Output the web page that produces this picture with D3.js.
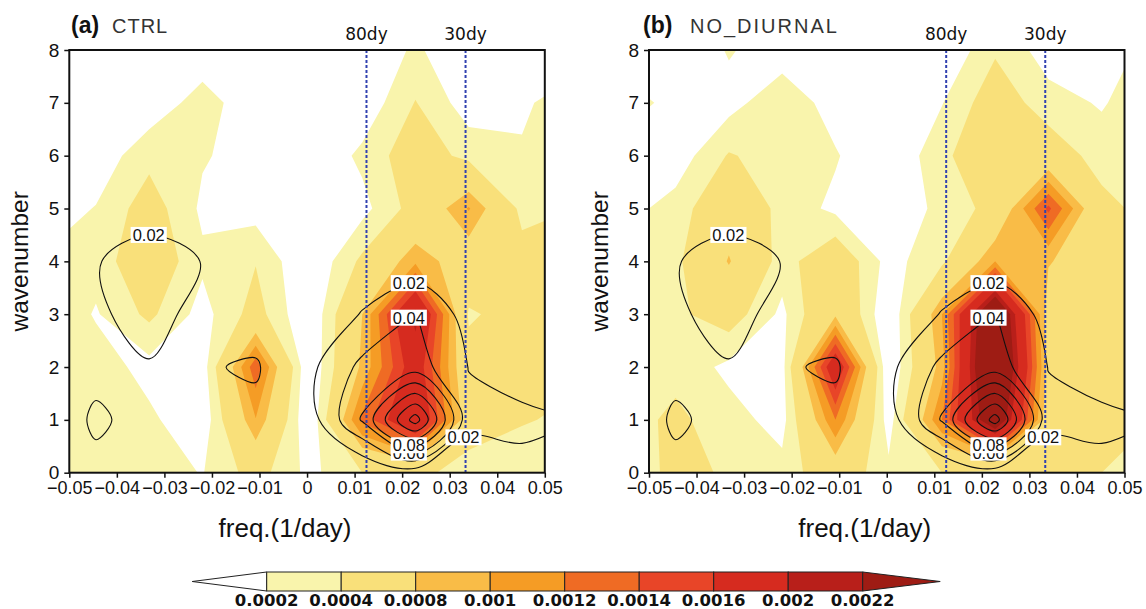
<!DOCTYPE html>
<html>
<head>
<meta charset="utf-8">
<script src="https://cdn.jsdelivr.net/npm/d3@7"></script>
<style>
  body { margin: 0; background: #fff; }
  svg { display: block; font-family: "Liberation Sans", Arial, sans-serif; }
</style>
</head>
<body>
<svg width="1146" height="609"></svg>
<script>
// grid of the spectra: frequency columns (1/day) and wavenumber rows
const freqs = [-0.0556, -0.0444, -0.0333, -0.0222, -0.0111, 0, 0.0111, 0.0222, 0.0333, 0.0444, 0.0556];
const wavenumbers = [0, 1, 2, 3, 4, 5, 6, 7, 8];

// shaded power, one row per wavenumber (0..8), one value per freq column
const ctrlPower = [
  [0.0003, 0.0003, 0.0003, 0.00019, 0.0005, 0.00014, 0.0004, 0.0005, 0.00025, 0.00025, 0.00025],
  [0.0003, 0.0003, 0.00024, 0.00005, 0.00099, 0, 0.00125, 0.00198, 0.0006, 0.00042, 0.00035],
  [0.0003, 0.0003, 0.00013, 0.00009, 0.00134, 0, 0.00085, 0.0018, 0.0005, 0.00048, 0.00045],
  [0.0004, 0.00018, 0.00045, 0.00012, 0.0005, 0, 0.0008, 0.0021, 0.00037, 0.0005, 0.0005],
  [0.00022, 0.00028, 0.0006, 0.00024, 0.00039, 0, 0.00045, 0.00095, 0.00061, 0.0005, 0.00055],
  [0.000085, 0.00021, 0.00052, 0.00016, 0.00011, 0, 0.00013, 0.0005, 0.00102, 0.00033, 0.0004],
  [0, 0.00007, 0.000335, 0.00022, 0.00011, 0, 0.00025, 0.00055, 0.00033, 0.00022, 0.0003],
  [0, 0, 0.000065, 0.00029, 0.000065, 0, 0.00005, 0.00041, 0.00009, 0.00017, 0.0003],
  [0, 0, 0, 0.000065, 0, 0, 0, 0.00024, 0, 0, 0.0001]
];
const noDiurnalPower = [
  [0.00016, 0.0005, 0.00036, 0.00027, 0.0006, 0.00025, 0.0004, 0.0003, 0.0005, 0.0004, 0.0003],
  [0.0003, 0.00045, 0.00028, 0.00012, 0.0012, 0.0001, 0.0012, 0.0026, 0.0006, 0.00055, 0.0004],
  [0.0003, 0.00033, 0.00015, 0.00012, 0.0019, 0, 0.0009, 0.003, 0.0007, 0.0006, 0.0005],
  [0.0003, 0.00035, 0.00053, 0.00015, 0.00075, 0, 0.001, 0.0028, 0.00065, 0.0006, 0.0005],
  [0.0003, 0.00034, 0.00082, 0.0003, 0.00062, 0.00012, 0.00035, 0.001, 0.00082, 0.0006, 0.0005],
  [0.00012, 0.00028, 0.00065, 0.00033, 0.00015, 0.00012, 0.00023, 0.0005, 0.00145, 0.00048, 0.0003],
  [0.00005, 0.00008, 0.00042, 0.0003, 0.00022, 0, 0.00035, 0.0006, 0.00056, 0.0003, 0.0003],
  [0.00035, 0.0001, 0.00012, 0.00035, 0.0001, 0, 0.00019, 0.00055, 0.00028, 0.00018, 0.00035],
  [0.00005, 0, 0.00022, 0.00008, 0, 0, 0, 0.00037, 0.0001, 0.00005, 0.0003]
];
// black line contours (same field on both panels)
const lineField = [
  [0.008, 0.0175, 0.012, 0.008, 0.010, 0.005, 0.0, 0.008, 0.008, 0.0175, 0.012],
  [0.0127, 0.0215, 0.0165, 0.012, 0.0188, 0.010, 0.062, 0.15, 0.025, 0.022, 0.0205],
  [0.010, 0.0174, 0.0189, 0.0196, 0.0205, 0.015, 0.045, 0.05, 0.0195, 0.016, 0.010],
  [0.008, 0.0175, 0.026, 0.0147, 0.0176, 0.005, 0.021, 0.0405, 0.012, 0.008, 0.006],
  [0.008, 0.019, 0.028, 0.0196, 0.012, 0.004, 0.008, 0.006, 0.005, 0.004, 0.004],
  [0.005, 0.010, 0.012, 0.010, 0.006, 0.003, 0.003, 0.003, 0.003, 0.003, 0.003],
  [0.003, 0.003, 0.003, 0.003, 0.003, 0.003, 0.003, 0.003, 0.003, 0.003, 0.003],
  [0.003, 0.003, 0.003, 0.003, 0.003, 0.003, 0.003, 0.003, 0.003, 0.003, 0.003],
  [0.003, 0.003, 0.003, 0.003, 0.003, 0.003, 0.003, 0.003, 0.003, 0.003, 0.003]
];

const shadeLevels = [0.0002, 0.0004, 0.0008, 0.001, 0.0012, 0.0014, 0.0016, 0.002, 0.0022];
const shadeColors = ['#f9f4ac', '#f9e07a', '#f9bc47', '#f59c25', '#ef6b24', '#e84528', '#d62b1f', '#b81f1a', '#9e1c14'];
const lineLevels = [0.02, 0.04, 0.06, 0.08, 0.10, 0.12, 0.14];
const lineLabels = [
  { level: 0.02, freq: -0.0333, side: 'top' },
  { level: 0.02, freq: 0.0214, side: 'top' },
  { level: 0.04, freq: 0.0214, side: 'top' },
  { level: 0.06, freq: 0.0214, side: 'bottom' },
  { level: 0.08, freq: 0.0214, side: 'bottom' },
  { level: 0.02, freq: 0.0329, side: 'bottom' }
];
const xTicks = [-0.05, -0.04, -0.03, -0.02, -0.01, 0, 0.01, 0.02, 0.03, 0.04, 0.05];
const yTicks = [0, 1, 2, 3, 4, 5, 6, 7, 8];
const periods = [{ label: '80dy', freq: 1 / 80 }, { label: '30dy', freq: 1 / 30 }];
const panels = [
  { tag: '(a)', name: 'CTRL', power: ctrlPower },
  { tag: '(b)', name: 'NO_DIURNAL', power: noDiurnalPower }
];

const svg = d3.select('svg');
const layout = [
  { left: 69.3, tagX: 71, nameX: 112, spacing: 1 },
  { left: 649, tagX: 643, nameX: 690, spacing: 2 }
];
const plotW = 475.5, plotTop = 50, plotBottom = 472.7;
const nx = freqs.length, ny = wavenumbers.length;
const df = freqs[1] - freqs[0];

panels.forEach((p, pi) => {
  const L = layout[pi];
  const x = d3.scaleLinear().domain([-0.05, 0.05]).range([L.left, L.left + plotW]);
  const y = d3.scaleLinear().domain([0, 8]).range([plotBottom, plotTop]);
  const toPx = ([gx, gy]) => [x(freqs[0] + (gx - 0.5) * df), y(wavenumbers[0] + (gy - 0.5))];
  const proj = d3.geoTransform({
    point(gx, gy) { const q = toPx([gx, gy]); this.stream.point(q[0], q[1]); }
  });
  const path = d3.geoPath(proj);

  svg.append('clipPath').attr('id', 'clip' + pi)
    .append('rect').attr('x', L.left).attr('y', plotTop).attr('width', plotW).attr('height', plotBottom - plotTop);
  const g = svg.append('g').attr('clip-path', `url(#clip${pi})`);

  // shaded power
  const shades = d3.contours().size([nx, ny]).thresholds(shadeLevels)(p.power.flat());
  g.selectAll('path.shade').data(shades).join('path')
    .attr('class', 'shade')
    .attr('d', path)
    .attr('fill', (d, i) => shadeColors[i]);

  // black contour lines
  const lineGen = d3.line().curve(d3.curveCatmullRomClosed.alpha(0.5));
  const lines = d3.contours().size([nx, ny]).thresholds(lineLevels)(lineField.flat());
  lines.forEach(c => c.coordinates.forEach(poly => poly.forEach(ring => {
    g.append('path')
      .attr('class', 'ring')
      .attr('data-level', c.value)
      .attr('d', lineGen(ring.slice(0, -1).map(toPx)))
      .attr('fill', 'none')
      .attr('stroke', '#111')
      .attr('stroke-width', 1.1);
  })));

  // period lines
  periods.forEach(d => {
    svg.append('line')
      .attr('x1', x(d.freq)).attr('x2', x(d.freq))
      .attr('y1', plotTop).attr('y2', plotBottom)
      .attr('stroke', '#3040b0').attr('stroke-width', 2)
      .attr('stroke-dasharray', '3,2');
    svg.append('text')
      .attr('x', x(d.freq)).attr('y', 40)
      .attr('text-anchor', 'middle')
      .style('font-family', '"DejaVu Sans", sans-serif')
      .attr('font-size', 17).attr('fill', '#111')
      .text(d.label);
  });

  // contour labels placed on the drawn lines
  const lg = svg.append('g');
  lineLabels.forEach(lab => {
    const X = x(lab.freq);
    let best = null;
    g.selectAll('path.ring').filter(function () { return Math.abs(+this.getAttribute('data-level') - lab.level) < 1e-9; })
      .each(function () {
        const len = this.getTotalLength();
        for (let s = 0; s <= len; s += 0.5) {
          const pt = this.getPointAtLength(s);
          if (Math.abs(pt.x - X) > 0.7 || pt.y < plotTop || pt.y > plotBottom) continue;
          if (best == null || (lab.side === 'top' ? pt.y < best : pt.y > best)) best = pt.y;
        }
      });
    if (best == null) return;
    const t = lg.append('text')
      .attr('x', X).attr('y', best)
      .attr('text-anchor', 'middle').attr('dy', '0.36em')
      .attr('font-size', 16.5).attr('fill', '#111')
      .text(lab.level.toFixed(2));
    const w = t.node().getComputedTextLength();
    lg.insert('rect', () => t.node())
      .attr('x', X - w / 2 - 2).attr('y', best - 8)
      .attr('width', w + 4).attr('height', 16)
      .attr('fill', '#fff');
  });

  // frame
  svg.append('rect')
    .attr('x', L.left).attr('y', plotTop).attr('width', plotW).attr('height', plotBottom - plotTop)
    .attr('fill', 'none').attr('stroke', '#111').attr('stroke-width', 2);

  // axes
  const ya = svg.append('g').attr('transform', `translate(${L.left},0)`)
    .call(d3.axisLeft(y).tickValues(yTicks).tickSize(5).tickPadding(5).tickFormat(d3.format('d')));
  ya.select('.domain').remove();
  ya.attr('font-family', null).attr('font-size', null);
  ya.selectAll('line').attr('stroke', '#111').attr('stroke-width', 1.5);
  ya.selectAll('text').attr('font-size', 19).attr('fill', '#111');

  const xa = svg.append('g').attr('transform', `translate(0,${plotBottom})`)
    .call(d3.axisBottom(x).tickValues(xTicks).tickSize(5).tickPadding(4)
      .tickFormat(d => d === 0 ? '0' : d3.format('.2f')(d)));
  xa.select('.domain').remove();
  xa.attr('font-family', null).attr('font-size', null);
  xa.selectAll('line').attr('stroke', '#111').attr('stroke-width', 1.5);
  xa.selectAll('text').attr('font-size', 18).attr('fill', '#111');

  // titles and axis names
  svg.append('text').attr('x', L.tagX).attr('y', 33)
    .attr('font-size', 23).attr('font-weight', 'bold').attr('fill', '#111').text(p.tag);
  svg.append('text').attr('x', L.nameX).attr('y', 33)
    .attr('font-size', 20).attr('fill', '#333').attr('letter-spacing', L.spacing).text(p.name);
  svg.append('text')
    .attr('transform', `translate(${L.left - 41},${(plotTop + plotBottom) / 2}) rotate(-90)`)
    .attr('text-anchor', 'middle').attr('font-size', 24.5).attr('fill', '#111')
    .text('wavenumber');
  svg.append('text')
    .attr('x', (x.range()[0] + x.range()[1]) / 2 - 22).attr('y', 537)
    .attr('text-anchor', 'middle').attr('font-size', 26).attr('fill', '#111')
    .text('freq.(1/day)');
});

// colour bar
const cb = { x0: 266.7, x1: 862.7, y0: 572, y1: 591 };
const cbx = d3.scaleLinear().domain([0, shadeLevels.length - 1]).range([cb.x0, cb.x1]);
const cbg = svg.append('g');
const ym = (cb.y0 + cb.y1) / 2;
cbg.append('path')
  .attr('d', `M${cbx(0)},${cb.y0}L${cbx(-1)},${ym}L${cbx(0)},${cb.y1}Z`)
  .attr('fill', '#fff').attr('stroke', '#222').attr('stroke-width', 1);
cbg.selectAll('rect').data(d3.range(shadeLevels.length - 1)).join('rect')
  .attr('x', i => cbx(i)).attr('y', cb.y0)
  .attr('width', i => cbx(i + 1) - cbx(i)).attr('height', cb.y1 - cb.y0)
  .attr('fill', i => shadeColors[i]).attr('stroke', '#222').attr('stroke-width', 1);
cbg.append('path')
  .attr('d', `M${cbx(shadeLevels.length - 1)},${cb.y0}L${cbx(shadeLevels.length) + 3},${ym}L${cbx(shadeLevels.length - 1)},${cb.y1}Z`)
  .attr('fill', shadeColors[shadeColors.length - 1]).attr('stroke', '#222').attr('stroke-width', 1);
cbg.selectAll('text').data(shadeLevels).join('text')
  .attr('x', (d, i) => cbx(i)).attr('y', 606)
  .attr('text-anchor', 'middle')
  .style('font-family', '"DejaVu Sans", sans-serif')
  .attr('font-size', 16.5).attr('font-weight', 'bold').attr('fill', '#111')
  .text(d => String(d));
</script>
</body>
</html>
